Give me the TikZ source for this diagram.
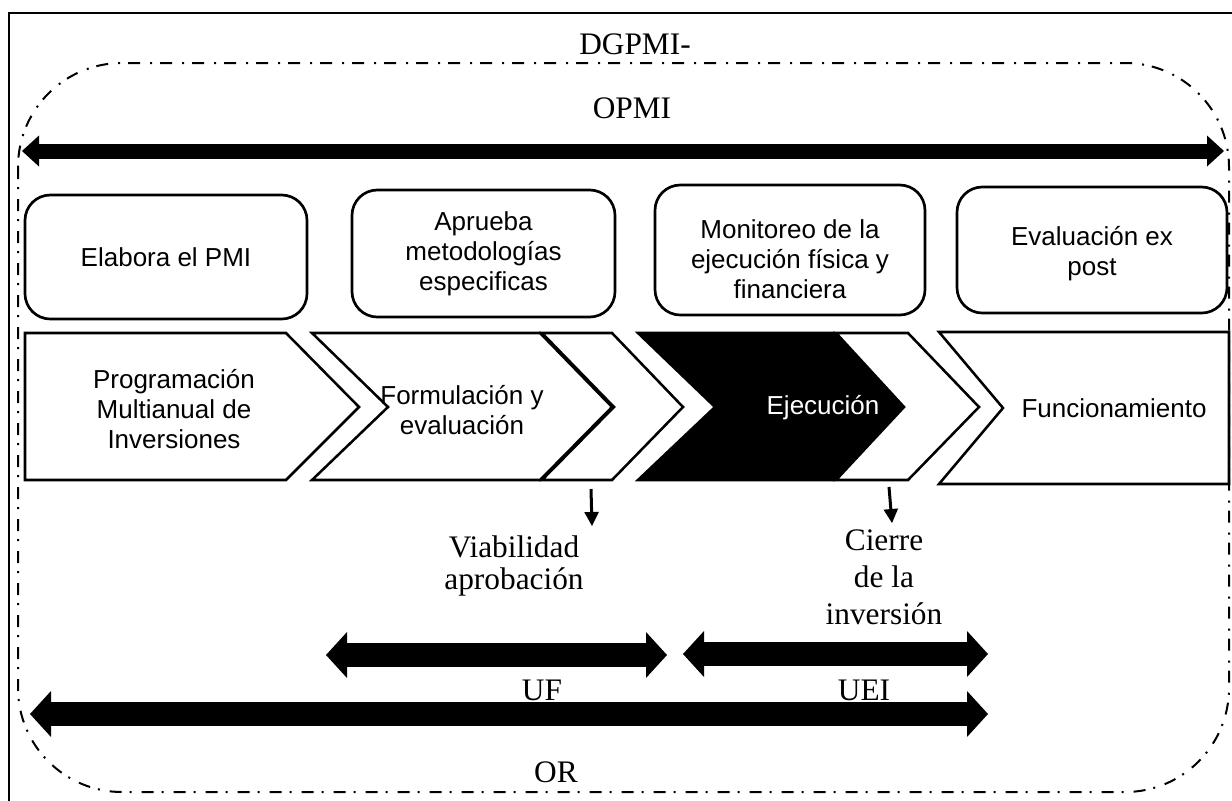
\documentclass[tikz,border=0pt]{standalone}
\usepackage{fontspec}
\setmainfont{Liberation Serif}
\newfontfamily\arialf{Liberation Sans}
\usetikzlibrary{arrows.meta}
\newcommand{\sanstxt}{\arialf\fontsize{19.5}{22.5}\selectfont}
\newcommand{\seriftxt}{\fontsize{23.5}{24}\selectfont}
\newcommand{\seriftxtb}{\fontsize{23.5}{27.75}\selectfont}
\tikzset{
  frame/.style={draw, line width=1.5pt},
  dashdot/.style={draw, line width=1.5pt, dash pattern=on 9pt off 6pt on 1.5pt off 7.5pt, rounded corners=78pt},
  rbox/.style={draw, line width=2pt, rounded corners=19pt, align=center, font=\sanstxt, inner sep=0pt},
  chev/.style={draw, line width=1.9pt, fill=white, line join=miter},
  blackchev/.style={draw, line width=1.9pt, fill=black, line join=miter},
  chevtxt/.style={align=center, font=\sanstxt, inner sep=0pt},
  lbl/.style={align=center, font=\seriftxt, inner sep=0pt},
  toparrow/.style={line width=11.25pt,
    {Triangle[length=12.75pt,width=23.25pt,line width=0pt]}-{Triangle[length=12.75pt,width=23.25pt,line width=0pt]}},
  rolearrow/.style={line width=18pt,
    {Triangle[length=15.75pt,width=34.5pt,line width=0pt]}-{Triangle[length=15.75pt,width=34.5pt,line width=0pt]}},
  milestone/.style={line width=2.25pt, -{Triangle[length=10.5pt,width=11pt,line width=0pt]}}
}
\begin{document}
\begin{tikzpicture}[x=0.75pt,y=-0.75pt]
\useasboundingbox (0,0) rectangle (1232,800);
\fill[white] (0,0) rectangle (1232,800);
% outer frame and dash-dot region
\draw[frame] (9,13) rectangle (1245,815);
\draw[dashdot] (18,63) rectangle (1229,792);
\node[lbl] (dgpmi) at (635,44) {DGPMI-};
\node[lbl] (opmi) at (632,108) {OPMI};
% top arrow
\coordinate (tl) at (22,151);
\coordinate (tr) at (1224,151);
\draw[toparrow] (tl) -- (tr);
% rounded boxes
\node[rbox, minimum width=211.5pt, minimum height=93pt] (b1) at (166,257) {Elabora el PMI};
\node[rbox, minimum width=197.25pt, minimum height=95.25pt] (b2) at (483.5,253.5) {Aprueba\\metodologías\\especificas};
\node[rbox, minimum width=202.5pt, minimum height=97.5pt] (b3) at (790,250) {};
\node[chevtxt] (b3t) at (790,259) {Monitoreo de la\\ejecución física y\\financiera};
\node[rbox, minimum width=202.5pt, minimum height=94.5pt] (b4) at (1092,250) {};
\node[chevtxt] (b4t) at (1092,254) {Evaluación ex\\post};
% chevrons
\draw[chev] (25,333) -- (286,333) -- (359,407) -- (286,480) -- (25,480) -- cycle;
\draw[chev] (542,333) -- (612,333) -- (683,407) -- (612,480) -- (542,480) -- (614,407) -- cycle;
\draw[chev] (312,333) -- (540,333) -- (612,407) -- (540,480) -- (312,480) -- (388,407) -- cycle;
\draw[blackchev] (638,333) -- (834,333) -- (902,407) -- (834,480) -- (638,480) -- (715,407) -- cycle;
\draw[chev] (836,333) -- (908,333) -- (979,407) -- (908,480) -- (836,480) -- (904,407) -- cycle;
\draw[chev] (939,332) -- (1229,332) -- (1229,484) -- (939,484) -- (1003,408) -- cycle;
\node[chevtxt] (c1) at (174,409) {Programación\\Multianual de\\Inversiones};
\node[chevtxt] (c2) at (462,410) {Formulación y\\evaluación};
\node[chevtxt, text=white] (c3) at (823,408) {Ejecución};
\node[chevtxt] (c4) at (1114,408) {Funcionamiento};
% milestones
\node[lbl] (viab) at (514,566) {Viabilidad\\aprobación};
\node[lbl, font=\seriftxtb] (cierre) at (884,577) {Cierre\\de la\\inversión};
\coordinate (va) at (591,489);
\coordinate (vb) at (592,526);
\draw[milestone] (va) -- (vb);
\coordinate (ca) at (889,487);
\coordinate (cb) at (892,523);
\draw[milestone] (ca) -- (cb);
% role arrows
\coordinate (ufl) at (326,655);
\coordinate (ufr) at (667,655);
\draw[rolearrow] (ufl) -- (ufr);
\coordinate (ueil) at (683,654);
\coordinate (ueir) at (988,654);
\draw[rolearrow] (ueil) -- (ueir);
\coordinate (orl) at (30,714);
\coordinate (orr) at (988,714);
\draw[rolearrow] (orl) -- (orr);
\node[lbl] (uf) at (542,690) {UF};
\node[lbl] (uei) at (864,690) {UEI};
\node[lbl] (orlbl) at (556,772) {OR};
\end{tikzpicture}
\end{document}
